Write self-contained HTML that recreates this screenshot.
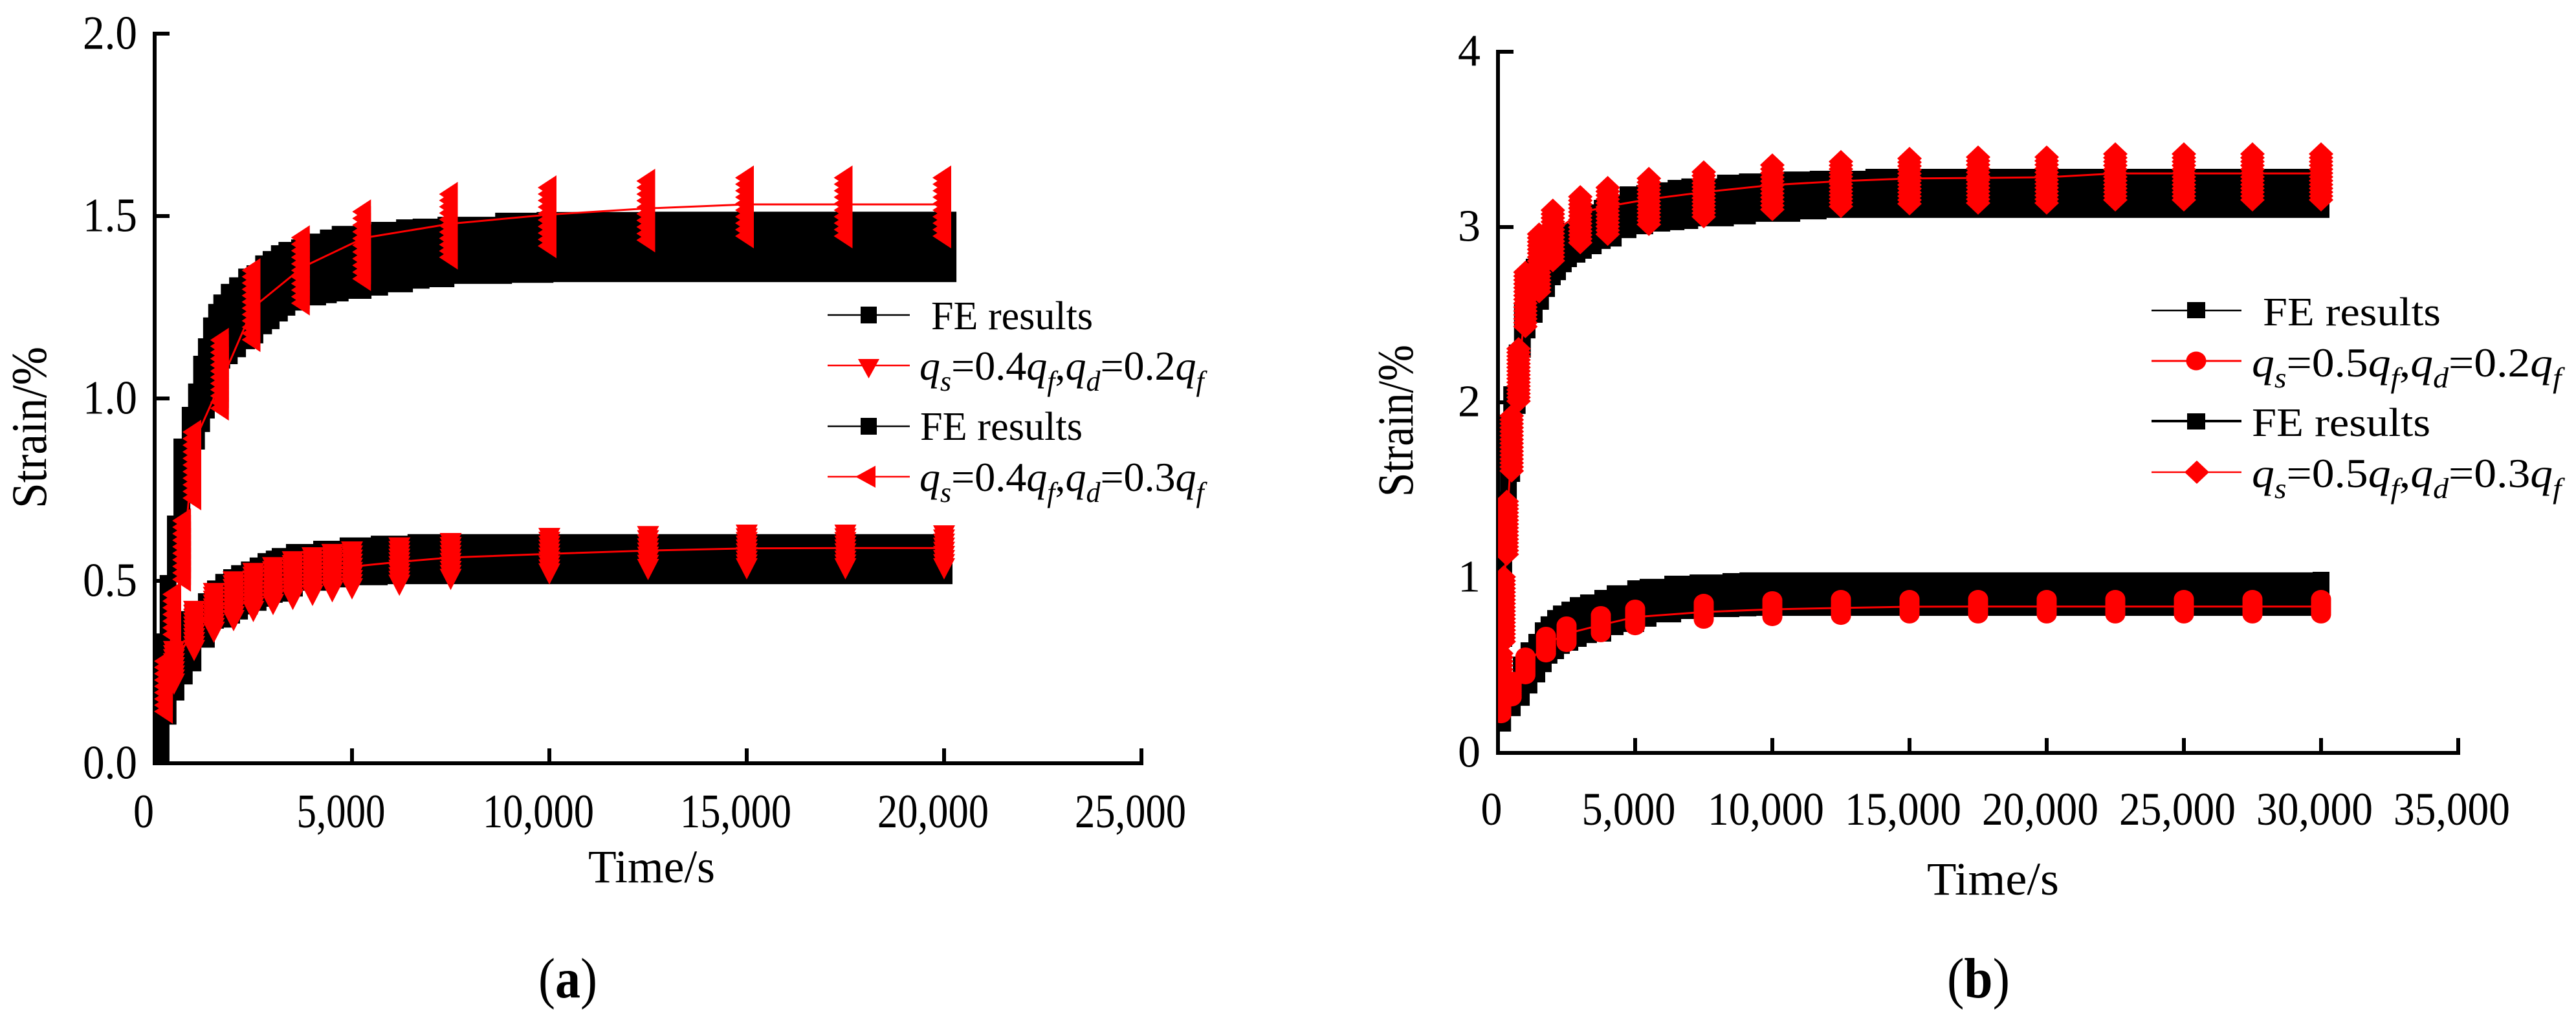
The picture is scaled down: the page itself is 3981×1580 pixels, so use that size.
<!DOCTYPE html>
<html lang="en">
<head>
<meta charset="utf-8">
<title>Strain versus time charts</title>
<style>
html,body{margin:0;padding:0;background:#fff;}
svg{display:block;}
text{font-family:"Liberation Serif","Times New Roman",serif;fill:#000;}
</style>
</head>
<body>
<svg id="figure" xmlns="http://www.w3.org/2000/svg" width="3981" height="1580" viewBox="0 0 3981 1580">
  <defs>
    <clipPath id="clipA"><rect x="238" y="0" width="1700" height="1580"/></clipPath>
    <clipPath id="clipB"><rect x="2315" y="0" width="1600" height="1580"/></clipPath>
    <clipPath id="bandClipA"><rect x="236" y="0" width="1700" height="1184"/></clipPath>
    <clipPath id="bandClipB"><rect x="2312" y="0" width="1600" height="1168"/></clipPath>
  </defs>
  <rect x="0" y="0" width="3981" height="1580" fill="#fff"/>

  <g id="panelA"></g>
  <g id="panelB"></g>

  <text transform="translate(71,786) rotate(-90)" font-size="77" textLength="250" lengthAdjust="spacingAndGlyphs">Strain/%</text>
  <text x="909" y="1364" font-size="72" textLength="196" lengthAdjust="spacingAndGlyphs">Time/s</text>
  <text x="832" y="1542" font-size="88" textLength="91" lengthAdjust="spacingAndGlyphs">(<tspan font-weight="bold">a</tspan>)</text>

  <text transform="translate(2183,768) rotate(-90)" font-size="78" textLength="235" lengthAdjust="spacingAndGlyphs">Strain/%</text>
  <text x="2978" y="1383" font-size="72" textLength="204" lengthAdjust="spacingAndGlyphs">Time/s</text>
  <text x="3009" y="1542" font-size="88" textLength="97" lengthAdjust="spacingAndGlyphs">(<tspan font-weight="bold">b</tspan>)</text>

  <g>
    <line x1="1279" x2="1406" y1="487" y2="487" stroke="#000" stroke-width="2.5"/>
    <rect x="1330" y="474" width="25" height="26" fill="#000"/>
    <text x="1439" y="509" font-size="62" textLength="250" lengthAdjust="spacingAndGlyphs">FE results</text>

    <line x1="1279" x2="1406" y1="565" y2="565" stroke="#f00" stroke-width="2.5"/>
    <polygon points="1326,555 1359,555 1342.5,585" fill="#f00"/>
    <text x="1421" y="587" font-size="64"><tspan font-style="italic">q</tspan><tspan font-style="italic" font-size="44" dy="17">s</tspan><tspan dy="-17">=0.4</tspan><tspan font-style="italic">q</tspan><tspan font-style="italic" font-size="44" dy="17">f</tspan><tspan dy="-17">,</tspan><tspan font-style="italic">q</tspan><tspan font-style="italic" font-size="44" dy="17">d</tspan><tspan dy="-17">=0.2</tspan><tspan font-style="italic">q</tspan><tspan font-style="italic" font-size="44" dy="17">f</tspan></text>

    <line x1="1279" x2="1406" y1="659" y2="659" stroke="#000" stroke-width="2.5"/>
    <rect x="1330" y="646" width="25" height="26" fill="#000"/>
    <text x="1422" y="680" font-size="62" textLength="251" lengthAdjust="spacingAndGlyphs">FE results</text>

    <line x1="1279" x2="1406" y1="737" y2="737" stroke="#f00" stroke-width="2.5"/>
    <polygon points="1353,720 1353,754 1322,737" fill="#f00"/>
    <text x="1421" y="759" font-size="64"><tspan font-style="italic">q</tspan><tspan font-style="italic" font-size="44" dy="17">s</tspan><tspan dy="-17">=0.4</tspan><tspan font-style="italic">q</tspan><tspan font-style="italic" font-size="44" dy="17">f</tspan><tspan dy="-17">,</tspan><tspan font-style="italic">q</tspan><tspan font-style="italic" font-size="44" dy="17">d</tspan><tspan dy="-17">=0.3</tspan><tspan font-style="italic">q</tspan><tspan font-style="italic" font-size="44" dy="17">f</tspan></text>
  </g>

  <g>
    <line x1="3325" x2="3464" y1="480" y2="480" stroke="#000" stroke-width="2.5"/>
    <rect x="3380" y="467" width="28" height="25" fill="#000"/>
    <text x="3497" y="503" font-size="62" textLength="275" lengthAdjust="spacingAndGlyphs">FE results</text>

    <line x1="3325" x2="3464" y1="558" y2="558" stroke="#f00" stroke-width="3"/>
    <ellipse cx="3394" cy="558" rx="15.5" ry="14.5" fill="#f00"/>
    <text transform="translate(3480,582) scale(1.088,1)" font-size="64"><tspan font-style="italic">q</tspan><tspan font-style="italic" font-size="44" dy="17">s</tspan><tspan dy="-17">=0.5</tspan><tspan font-style="italic">q</tspan><tspan font-style="italic" font-size="44" dy="17">f</tspan><tspan dy="-17">,</tspan><tspan font-style="italic">q</tspan><tspan font-style="italic" font-size="44" dy="17">d</tspan><tspan dy="-17">=0.2</tspan><tspan font-style="italic">q</tspan><tspan font-style="italic" font-size="44" dy="17">f</tspan></text>

    <line x1="3325" x2="3464" y1="651" y2="651" stroke="#000" stroke-width="4"/>
    <rect x="3380" y="639" width="28" height="25" fill="#000"/>
    <text x="3480" y="674" font-size="62" textLength="276" lengthAdjust="spacingAndGlyphs">FE results</text>

    <line x1="3325" x2="3464" y1="730" y2="730" stroke="#f00" stroke-width="2.5"/>
    <polygon points="3376,730 3395,712 3414,730 3395,748" fill="#f00"/>
    <text transform="translate(3480,753) scale(1.088,1)" font-size="64"><tspan font-style="italic">q</tspan><tspan font-style="italic" font-size="44" dy="17">s</tspan><tspan dy="-17">=0.5</tspan><tspan font-style="italic">q</tspan><tspan font-style="italic" font-size="44" dy="17">f</tspan><tspan dy="-17">,</tspan><tspan font-style="italic">q</tspan><tspan font-style="italic" font-size="44" dy="17">d</tspan><tspan dy="-17">=0.3</tspan><tspan font-style="italic">q</tspan><tspan font-style="italic" font-size="44" dy="17">f</tspan></text>
  </g>
</svg>

<script>
// ---------- Axis tick data ----------
const aXTicks = [0, 5000, 10000, 15000, 20000, 25000];
const aXTickLabels = ["0", "5,000", "10,000", "15,000", "20,000", "25,000"];
const aYTicks = [0, 0.5, 1.0, 1.5, 2.0];
const aYTickLabels = ["0.0", "0.5", "1.0", "1.5", "2.0"];
const bXTicks = [0, 5000, 10000, 15000, 20000, 25000, 30000, 35000];
const bXTickLabels = ["0", "5,000", "10,000", "15,000", "20,000", "25,000", "30,000", "35,000"];
const bYTicks = [0, 1, 2, 3, 4];
const bYTickLabels = ["0", "1", "2", "3", "4"];

// ---------- Panel (a): FE envelope, upper curve ----------
const aFeUpperTimes = [160,340,525,690,900,1060,1190,1310,1440,1570,1700,1890,2100,2330,2540,2760,2950,3160,3350,3670,4130,4400,4700,5280,5700,6330,6750,7380,8840,9890,12700,20100];
const aFeUpperHigh = [0.356,0.516,0.679,0.890,0.977,1.041,1.117,1.165,1.222,1.259,1.285,1.314,1.332,1.356,1.365,1.392,1.404,1.420,1.429,1.436,1.452,1.463,1.473,1.477,1.484,1.491,1.493,1.498,1.509,1.511,1.512,1.512];
const aFeUpperLow = [0,0.356,0.496,0.674,0.780,0.860,0.908,0.945,0.993,1.037,1.082,1.094,1.113,1.135,1.151,1.176,1.190,1.211,1.227,1.241,1.255,1.261,1.266,1.273,1.282,1.291,1.301,1.305,1.314,1.317,1.319,1.319];

// ---------- Panel (a): FE envelope, lower curve ----------
const aFeLowerTimes = [160,340,540,750,970,1310,1540,1750,1950,2150,2400,2620,2820,3030,3180,3540,4230,4900,5690,6620,20000];
const aFeLowerHigh = [0.248,0.319,0.390,0.417,0.443,0.466,0.501,0.519,0.532,0.543,0.553,0.564,0.576,0.583,0.590,0.601,0.610,0.619,0.624,0.628,0.628];
const aFeLowerLow = [0,0.106,0.172,0.216,0.252,0.317,0.369,0.372,0.383,0.394,0.408,0.418,0.429,0.440,0.443,0.457,0.473,0.482,0.488,0.491,0.491];

// ---------- Panel (a): qs=0.4qf, qd=0.2qf (down triangles) ----------
const aQ02Times = [490,1000,1500,2000,2500,3000,3500,4000,4500,5000,6200,7500,10000,12500,15000,17500,20000];
const aQ02Line = [0.27,0.37,0.42,0.45,0.475,0.495,0.51,0.52,0.53,0.539,0.552,0.564,0.574,0.583,0.589,0.590,0.590];
const aQ02High = [0.306,0.416,0.465,0.497,0.520,0.536,0.552,0.563,0.572,0.579,0.590,0.602,0.616,0.621,0.625,0.625,0.623];
const aQ02Low = [0.217,0.309,0.359,0.391,0.416,0.435,0.449,0.460,0.470,0.478,0.488,0.504,0.519,0.531,0.533,0.533,0.533];

// ---------- Panel (a): qs=0.4qf, qd=0.3qf (left triangles) ----------
const aQ03Times = [280,490,740,1000,1700,2500,3750,5300,7500,10000,12500,15000,17500,20000];
const aQ03Line = [0.21,0.41,0.58,0.88,1.05,1.25,1.36,1.44,1.479,1.504,1.521,1.532,1.532,1.532];
const aQ03High = [0.280,0.463,0.665,0.908,1.160,1.351,1.441,1.512,1.560,1.578,1.596,1.605,1.605,1.605];
const aQ03Low = [0.142,0.353,0.504,0.727,0.973,1.161,1.261,1.328,1.387,1.418,1.434,1.445,1.445,1.445];

// ---------- Panel (b): FE envelope, upper curve ----------
const bFeUpperTimes = [210,380,500,700,890,1060,1320,1550,1770,1980,2170,2380,2570,2880,3110,3470,3800,4200,4740,5350,5970,6490,6990,8290,9090,10710,11670,13700,30000];
const bFeUpperHigh = [1.491,1.93,2.092,2.33,2.56,2.708,2.819,2.875,2.93,2.967,2.985,3.004,3.022,3.044,3.085,3.129,3.155,3.185,3.232,3.240,3.255,3.269,3.277,3.299,3.306,3.317,3.321,3.332,3.332];
const bFeUpperLow = [0.605,1.16,1.546,1.934,2.255,2.365,2.454,2.528,2.601,2.668,2.697,2.742,2.771,2.797,2.819,2.845,2.875,2.889,2.937,2.959,2.974,2.982,2.989,3.004,3.015,3.030,3.044,3.052,3.052];

// ---------- Panel (b): FE envelope, lower curve ----------
const bFeLowerTimes = [170,520,850,1130,1415,1650,1860,2100,2310,2620,2925,3300,3820,4270,5020,5470,6370,7290,8490,9110,30000];
const bFeLowerHigh = [0.310,0.421,0.550,0.631,0.679,0.745,0.779,0.815,0.841,0.863,0.889,0.904,0.930,0.956,0.985,0.993,1.011,1.018,1.026,1.030,1.033];
const bFeLowerLow = [0.122,0.210,0.269,0.339,0.402,0.461,0.509,0.535,0.565,0.583,0.605,0.627,0.635,0.672,0.690,0.720,0.745,0.764,0.775,0.779,0.782];

// ---------- Panel (b): qs=0.5qf, qd=0.2qf (circles) ----------
const bQ02Times = [120,500,1000,1750,2500,3750,5000,7500,10000,12500,15000,17500,20000,22500,25000,27500,30000];
const bQ02Line = [0.27,0.36,0.50,0.62,0.68,0.73,0.775,0.804,0.819,0.827,0.834,0.835,0.835,0.835,0.835,0.835,0.835];
const bQ02High = [0.384,0.413,0.550,0.668,0.727,0.786,0.823,0.856,0.871,0.878,0.878,0.878,0.878,0.878,0.878,0.878,0.878];
const bQ02Low = [0.221,0.317,0.443,0.568,0.627,0.683,0.723,0.760,0.775,0.782,0.790,0.790,0.790,0.790,0.790,0.790,0.790];

// ---------- Panel (b): qs=0.5qf, qd=0.3qf (diamonds) ----------
const bQ03Times = [120,210,320,500,750,1000,1500,2000,3000,4000,5500,7500,10000,12500,15000,17500,20000,22500,25000,27500,30000];
const bQ03Line = [0.45,0.80,1.306,1.749,2.155,2.561,2.782,2.967,3.081,3.118,3.159,3.199,3.240,3.262,3.277,3.280,3.284,3.306,3.306,3.306,3.306];
const bQ03High = [0.568,1.004,1.435,1.923,2.306,2.742,2.96,3.096,3.173,3.225,3.277,3.314,3.354,3.373,3.391,3.399,3.399,3.417,3.417,3.417,3.417];
const bQ03Low = [0.384,0.635,1.133,1.609,2.007,2.432,2.631,2.808,2.911,2.959,3.015,3.059,3.100,3.118,3.133,3.137,3.137,3.155,3.155,3.155,3.155];

const NS = "http://www.w3.org/2000/svg";

// ---------- Axis functions ----------
function xA(t) { return 239 + (t / 25000) * 1525; }
function yA(v) { return 1180 - (v / 2) * 1128; }
function xB(t) { return 2315 + (t / 35000) * 1484; }
function yB(v) { return 1164 - (v / 4) * 1084; }

function make(tag, parent, attrs) {
  const node = document.createElementNS(NS, tag);
  for (const k in attrs) node.setAttribute(k, attrs[k]);
  parent.appendChild(node);
  return node;
}

function drawBand(parent, xf, yf, times, high, low, clip, name) {
  const n = times.length;
  let d = "M" + (xf(times[0]) - 13) + " " + yf(low[0]) + " V" + yf(high[0]);
  for (let i = 1; i < n; i++) {
    d += " H" + (xf(times[i]) - 13) + " V" + yf(high[i]);
  }
  d += " H" + (xf(times[n - 1]) + 13) + " V" + yf(low[n - 1]);
  for (let i = n - 2; i >= 0; i--) {
    d += " H" + (xf(times[i]) + 13) + " V" + yf(low[i]);
  }
  d += " H" + (xf(times[0]) - 13) + " Z";
  const band = make("path", parent, { d: d, fill: "#000", "clip-path": "url(#" + clip + ")" });
  
  
}

function drawMarker(parent, shape, cx, cy) {
  let m;
  if (shape === "down") {
    m = make("polygon", parent, { points: (cx - 17) + "," + (cy - 16.5) + " " + (cx + 17) + "," + (cy - 16.5) + " " + cx + "," + (cy + 16.5) });
  } else if (shape === "left") {
    m = make("polygon", parent, { points: (cx + 11) + "," + (cy - 19) + " " + (cx + 11) + "," + (cy + 19) + " " + (cx - 18) + "," + cy });
  } else if (shape === "circle") {
    m = make("ellipse", parent, { cx: cx, cy: cy, rx: 15.5, ry: 14 });
  } else {
    m = make("polygon", parent, { points: (cx - 19) + "," + cy + " " + cx + "," + (cy - 18) + " " + (cx + 19) + "," + cy + " " + cx + "," + (cy + 18) });
  }
  
  
}

function drawSeries(parent, xf, yf, times, line, high, low, shape, step, clip, name) {
  const g = make("g", parent, { fill: "#f00", "clip-path": "url(#" + clip + ")" });
  
  
  const pts = times.map(function (t, i) { return xf(t) + "," + yf(line[i]); }).join(" ");
  const pl = make("polyline", g, { points: pts, fill: "none", stroke: "#f00", "stroke-width": 3 });
  
  
  times.forEach(function (t, i) {
    const col = make("g", g, {});
    
    
    const top = yf(high[i]);
    const bottom = yf(low[i]);
    const count = Math.max(1, Math.round((bottom - top) / step));
    for (let k = 0; k <= count; k++) {
      drawMarker(col, shape, xf(t), top + (bottom - top) * k / count);
    }
  });
}

function drawAxes(parent, cfg) {
  const stroke = { stroke: "#000", "stroke-width": cfg.weight, fill: "none" };
  const yLine = make("line", parent, Object.assign({ x1: cfg.x(0), x2: cfg.x(0), y1: cfg.y(cfg.yTicks[cfg.yTicks.length - 1]) - cfg.weight / 2, y2: cfg.y(0) + cfg.weight / 2 }, stroke));
  
  
  const xLine = make("line", parent, Object.assign({ x1: cfg.x(0), x2: cfg.x(cfg.xTicks[cfg.xTicks.length - 1]) + cfg.weight / 2, y1: cfg.y(0), y2: cfg.y(0) }, stroke));
  
  

  cfg.yTicks.forEach(function (v, i) {
    const tick = make("line", parent, Object.assign({ x1: cfg.x(0), x2: cfg.x(0) + cfg.yTickLen, y1: cfg.y(v), y2: cfg.y(v) }, stroke));
    
    
    const attrs = { x: cfg.yLabelX, y: cfg.y(v) + cfg.yLabelDy, "font-size": cfg.yFont, "text-anchor": "end" };
    if (cfg.yLabelWidth) { attrs.textLength = cfg.yLabelWidth; attrs.lengthAdjust = "spacingAndGlyphs"; }
    const label = make("text", parent, attrs);
    label.textContent = cfg.yLabels[i];
    
    
  });

  cfg.xTicks.forEach(function (t, i) {
    if (t > 0) {
      const tick = make("line", parent, Object.assign({ x1: cfg.x(t), x2: cfg.x(t), y1: cfg.y(0), y2: cfg.y(0) - cfg.xTickLen }, stroke));
      
      
    }
    const text = cfg.xLabels[i];
    const width = text.length === 6 ? cfg.xWidth6 : (text.length === 5 ? cfg.xWidth5 : cfg.xWidth1);
    const label = make("text", parent, { x: cfg.x(t) + cfg.xLabelDx - width / 2, y: cfg.xLabelY, "font-size": cfg.xFont, textLength: width, lengthAdjust: "spacingAndGlyphs" });
    label.textContent = text;
    
    
  });
}

const panelA = document.getElementById("panelA");
const panelB = document.getElementById("panelB");

drawAxes(panelA, {
  prefix: "panel-a", x: xA, y: yA, weight: 6,
  xTicks: aXTicks, xLabels: aXTickLabels, yTicks: aYTicks, yLabels: aYTickLabels,
  yTickLen: 23, xTickLen: 23, yLabelX: 212, yLabelDy: 23.5, yFont: 74, yLabelWidth: 84,
  xLabelDx: -17, xLabelY: 1279, xFont: 74, xWidth6: 172, xWidth5: 137, xWidth1: 32
});
drawBand(panelA, xA, yA, aFeUpperTimes, aFeUpperHigh, aFeUpperLow, "bandClipA", "panel-a-fe-band-upper");
drawBand(panelA, xA, yA, aFeLowerTimes, aFeLowerHigh, aFeLowerLow, "bandClipA", "panel-a-fe-band-lower");
drawSeries(panelA, xA, yA, aQ03Times, aQ03Line, aQ03High, aQ03Low, "left", 10, "clipA", "panel-a-series-q03");
drawSeries(panelA, xA, yA, aQ02Times, aQ02Line, aQ02High, aQ02Low, "down", 6, "clipA", "panel-a-series-q02");

drawAxes(panelB, {
  prefix: "panel-b", x: xB, y: yB, weight: 6,
  xTicks: bXTicks, xLabels: bXTickLabels, yTicks: bYTicks, yLabels: bYTickLabels,
  yTickLen: 24, xTickLen: 23, yLabelX: 2288, yLabelDy: 21.5, yFont: 70, yLabelWidth: 0,
  xLabelDx: -10, xLabelY: 1275, xFont: 72, xWidth6: 180, xWidth5: 145, xWidth1: 33
});
drawBand(panelB, xB, yB, bFeUpperTimes, bFeUpperHigh, bFeUpperLow, "bandClipB", "panel-b-fe-band-upper");
drawBand(panelB, xB, yB, bFeLowerTimes, bFeLowerHigh, bFeLowerLow, "bandClipB", "panel-b-fe-band-lower");
drawSeries(panelB, xB, yB, bQ03Times, bQ03Line, bQ03High, bQ03Low, "diamond", 6, "clipB", "panel-b-series-q03");
drawSeries(panelB, xB, yB, bQ02Times, bQ02Line, bQ02High, bQ02Low, "circle", 3, "clipB", "panel-b-series-q02");
</script>
</body>
</html>
